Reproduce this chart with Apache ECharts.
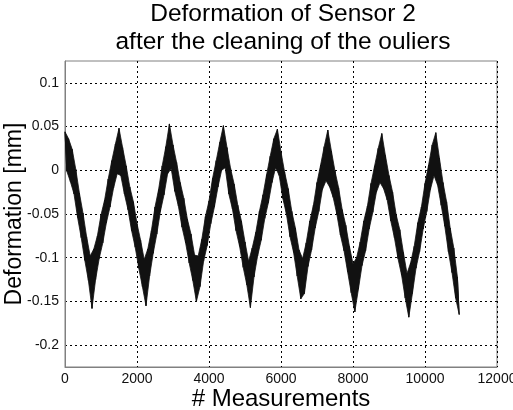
<!DOCTYPE html>
<html>
<head>
<meta charset="utf-8">
<script src="https://cdn.jsdelivr.net/npm/echarts@6/dist/echarts.min.js"></script>
<style>
  html, body { margin: 0; padding: 0; background: #fff; }
  #chart { width: 513px; height: 410px; }
</style>
</head>
<body>
<div id="chart"></div>
<script>
// Deformation of sensor 2 (mm) after outlier removal.
// The record is noisy, so it is kept as an upper and a lower trace of the
// noise band: upper values at every 100th measurement, lower values half way between.
const sampleStep = 100;

const upperEnv = [
  0.044, 0.036, 0.024, 0.001, -0.026, -0.049, -0.076, -0.098, -0.090, -0.075,
  -0.051, -0.034, -0.010, 0.011, 0.030, 0.048, 0.026, 0.005, -0.019, -0.036,
  -0.061, -0.080, -0.102, -0.090, -0.069, -0.042, -0.022, 0.005, 0.027, 0.053,
  0.029, 0.009, -0.014, -0.032, -0.056, -0.073, -0.097, -0.098, -0.079, -0.053,
  -0.035, -0.009, 0.011, 0.032, 0.051, 0.026, 0.002, -0.016, -0.040, -0.058,
  -0.082, -0.104, -0.089, -0.071, -0.047, -0.028, -0.005, 0.016, 0.036, 0.047,
  0.021, -0.002, -0.021, -0.047, -0.066, -0.091, -0.101, -0.083, -0.058, -0.040,
  -0.014, 0.006, 0.027, 0.046, 0.022, -0.001, -0.020, -0.045, -0.063, -0.087,
  -0.107, -0.100, -0.082, -0.058, -0.041, -0.015, 0.005, 0.025, 0.042, 0.017,
  -0.006, -0.025, -0.051, -0.068, -0.094, -0.118, -0.106, -0.087, -0.060, -0.042,
  -0.015, 0.006, 0.029, 0.043, 0.014, -0.014, -0.036, -0.066, -0.089, -0.122
];

const lowerEnv = [
  -0.001, -0.013, -0.027, -0.054, -0.077, -0.103, -0.126, -0.158, -0.125, -0.101,
  -0.083, -0.060, -0.042, -0.020, -0.004, -0.006, -0.027, -0.045, -0.069, -0.088,
  -0.112, -0.133, -0.155, -0.121, -0.095, -0.073, -0.047, -0.028, -0.004, 0.002,
  -0.024, -0.041, -0.065, -0.083, -0.106, -0.126, -0.150, -0.133, -0.104, -0.086,
  -0.061, -0.042, -0.019, 0.000, 0.003, -0.027, -0.044, -0.069, -0.087, -0.111,
  -0.131, -0.157, -0.122, -0.098, -0.080, -0.055, -0.037, -0.014, 0.003, -0.006,
  -0.032, -0.050, -0.076, -0.094, -0.121, -0.147, -0.141, -0.110, -0.091, -0.066,
  -0.047, -0.022, -0.012, -0.019, -0.031, -0.050, -0.074, -0.092, -0.116, -0.140,
  -0.162, -0.136, -0.109, -0.092, -0.067, -0.048, -0.025, -0.014, -0.021, -0.034,
  -0.058, -0.077, -0.101, -0.120, -0.146, -0.168, -0.141, -0.112, -0.093, -0.067,
  -0.047, -0.022, -0.006, -0.017, -0.040, -0.064, -0.093, -0.117, -0.146, -0.165
];

const yTicks = [-0.2, -0.15, -0.1, -0.05, 0, 0.05, 0.1];
const yLabels = ['-0.2', '-0.15', '-0.1', '-0.05', '0', '0.05', '0.1'];

const titleLines = ['Deformation of Sensor 2', 'after the cleaning of the ouliers'];
const xName = '# Measurements';
const yName = 'Deformation [mm]';

// the two traces as [measurement, value] pairs
const upperPts = upperEnv.map((v, i) => [i * sampleStep, v]);
const lowerPts = lowerEnv.map((v, i) => [i * sampleStep + sampleStep / 2, v]);

// interleaved zig-zag polyline (gives the spiky noise edge)
const zigzag = [];
for (let i = 0; i < upperPts.length; i++) {
  zigzag.push(upperPts[i]);
  zigzag.push(lowerPts[i]);
}

const FONT = "'Liberation Sans', Arial, Helvetica, sans-serif";
const chart = echarts.init(document.getElementById('chart'), null, { renderer: 'canvas' });

chart.setOption({
  animation: false,
  backgroundColor: '#fff',
  title: {
    text: titleLines.join('\n'),
    left: 278,
    top: -5,
    textAlign: 'center',
    textStyle: { fontFamily: FONT, fontSize: 24.5, fontWeight: 'normal', color: '#000', lineHeight: 28 }
  },
  grid: {
    left: 65, right: 16, top: 61, bottom: 43,
    containLabel: false,
    outerBoundsMode: 'none',
    show: true, borderColor: '#808080', borderWidth: 1, backgroundColor: 'transparent'
  },
  xAxis: {
    type: 'value',
    min: 0, max: 12000, interval: 2000,
    name: xName,
    nameLocation: 'middle',
    nameGap: 20,
    nameMoveOverlap: false,
    nameTextStyle: { fontFamily: FONT, fontSize: 24, color: '#000' },
    axisLine: { show: true, onZero: false, lineStyle: { color: '#808080', width: 1 } },
    axisTick: { show: false },
    axisLabel: {
      fontFamily: FONT, fontSize: 14, color: '#111', margin: 5,
      formatter: v => String(v)
    },
    splitLine: { show: true, lineStyle: { color: '#000', type: [2, 3], width: 1 } }
  },
  yAxis: {
    type: 'value',
    min: -0.225, max: 0.125,
    name: yName,
    nameLocation: 'middle',
    nameGap: 39,
    nameRotate: 90,
    nameMoveOverlap: false,
    nameTextStyle: { fontFamily: FONT, fontSize: 23, color: '#000' },
    axisLine: { show: true, onZero: false, lineStyle: { color: '#808080', width: 1 } },
    axisTick: { show: false, customValues: yTicks },
    axisLabel: {
      fontFamily: FONT, fontSize: 14, color: '#111', margin: 6,
      customValues: yTicks,
      formatter: function (v) {
        const k = yTicks.findIndex(t => Math.abs(t - v) < 1e-9);
        return k >= 0 ? yLabels[k] : '';
      }
    },
    splitLine: { show: true, lineStyle: { color: '#000', type: [2, 3], width: 1 } }
  },
  series: [
    {
      // filled noise band between the upper and lower traces
      type: 'custom',
      coordinateSystem: 'cartesian2d',
      data: [[0, 0]],
      renderItem: function (params, api) {
        const pts = [];
        upperPts.forEach(p => pts.push(api.coord(p)));
        for (let i = lowerPts.length - 1; i >= 0; i--) pts.push(api.coord(lowerPts[i]));
        return {
          type: 'polygon',
          shape: { points: pts },
          style: { fill: '#111', stroke: '#111', lineWidth: 0.8 }
        };
      },
      z: 4,
      silent: true
    },
    {
      type: 'line',
      data: zigzag,
      showSymbol: false,
      symbol: 'none',
      sampling: null,
      lineStyle: { color: '#111', width: 1 },
      z: 5
    }
  ]
});
</script>
</body>
</html>
